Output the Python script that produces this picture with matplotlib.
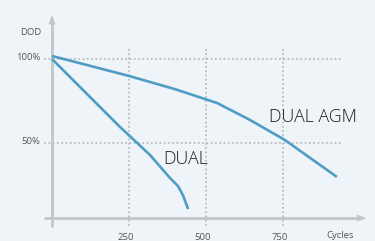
import matplotlib.pyplot as plt

agm_x = [0, 250, 400, 536, 643, 756, 925]
agm_y = [101.8, 89.9, 82, 73.8, 63.7, 51.8, 29.8]
dual_x = [0, 221, 318, 383, 409, 425, 442]
dual_y = [100, 59.5, 42.9, 29.2, 24.4, 19, 10.7]
x_ticks = [250, 500, 750]
y_ticks = [50, 100]
y_labels = ['50%', '100%']

bg = '#eff4f9'
line_col = '#4f9dc4'
axis_col = '#c3c5c8'
grid_col = '#b9bec4'

fig = plt.figure(figsize=(3.75, 2.41), dpi=100, facecolor=bg)
ax = fig.add_axes([0, 0, 1, 1])
ax.set_facecolor(bg)
ax.set_xlim(-168.8, 1048.7)
ax.set_ylim(-8.33, 135.1)
ax.axis('off')

# dotted grid
dots = (0, (0.05, 2.0))
for y in y_ticks:
    ax.plot([-23, 942], [y, y], color=grid_col, lw=1.5, ls=dots, dash_capstyle='round')
for x in x_ticks:
    ax.plot([x, x], [1.2, 108], color=grid_col, lw=1.5, ls=dots, dash_capstyle='round')

# axes with arrows
ax.plot([0, 0], [0, 122], color=axis_col, lw=2, solid_capstyle='butt')
ax.annotate('', xy=(0, 128), xytext=(0, 120),
            arrowprops=dict(arrowstyle='-|>,head_length=0.7,head_width=0.25', color=axis_col, lw=0))
ax.plot([-26, 1010], [5.36, 5.36], color=axis_col, lw=2, solid_capstyle='butt')
ax.annotate('', xy=(1030, 5.36), xytext=(1000, 5.36),
            arrowprops=dict(arrowstyle='-|>,head_length=0.7,head_width=0.25', color=axis_col, lw=0))

# series
ax.plot(agm_x, agm_y, color=line_col, lw=1.9, solid_capstyle='butt')
ax.plot(dual_x, dual_y, color=line_col, lw=1.9, solid_capstyle='butt')

lab_kw = dict(fontsize=12.8, color='#1e1e1e', family='Open Sans', weight='light',
              ha='left', va='center')
ax.text(706, 65.2, 'DUAL AGM', **lab_kw)
ax.text(360, 40.6, 'DUAL', **lab_kw)

tick_kw = dict(fontsize=6.8, color='#555555', family='Open Sans')
for x in x_ticks:
    ax.text(x - 12, -6.2, str(x), ha='center', va='center', **tick_kw)
ax.text(935, -5.2, 'Cycles', ha='center', va='center', **tick_kw)
for y, lab in zip(y_ticks, y_labels):
    ax.text(-38, y + 1, lab, ha='right', va='center', **tick_kw)
ax.text(-70, 116, 'DOD', ha='center', va='center', **tick_kw)

fig.savefig('out.png', dpi=100, facecolor=bg)
